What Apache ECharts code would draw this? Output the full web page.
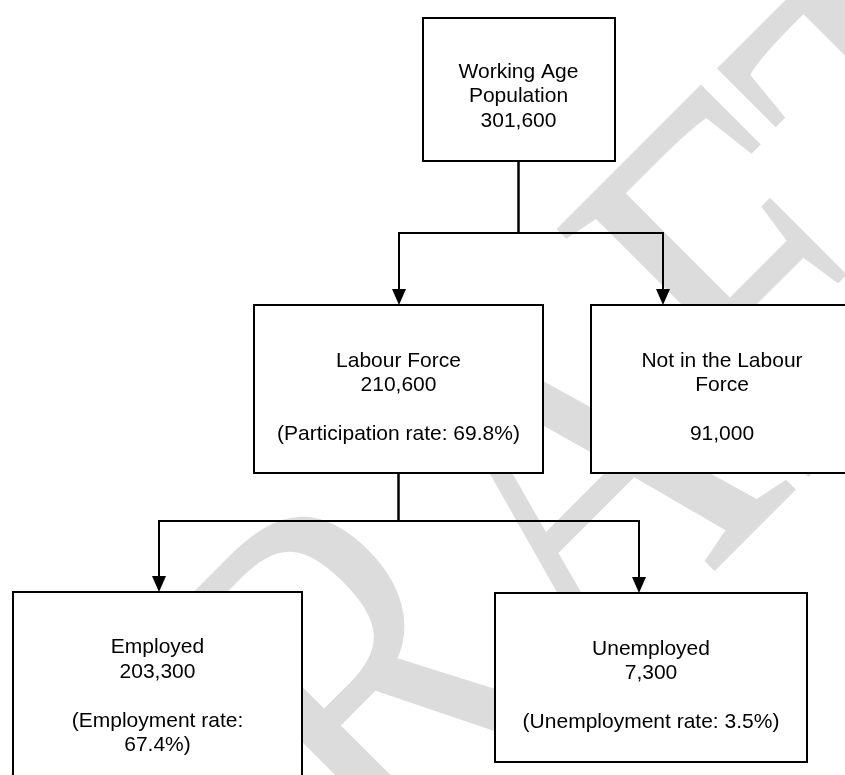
<!DOCTYPE html>
<html><head><meta charset="utf-8">
<script src="https://cdn.jsdelivr.net/npm/echarts@6/dist/echarts.min.js"></script>
<style>html,body{margin:0;padding:0;background:#fff}#chart{width:845px;height:775px}</style>
</head><body><div id="chart"></div>
<script>
// ---- data ----
const nodeTitles = ['Working Age\nPopulation', 'Labour Force', 'Not in the Labour\nForce', 'Employed', 'Unemployed'];
const nodeValues = [301600, 210600, 91000, 203300, 7300];
const rateNames = ['', 'Participation rate', '', 'Employment rate', 'Unemployment rate'];
const rateValues = [null, 69.8, null, 67.4, 3.5];
const links = [[0, 1], [0, 2], [1, 3], [1, 4]];
const watermarkText = 'DRAFT';

// ---- layout (kept apart from the data) ----
const boxes = [[423, 18, 615, 161], [254, 305, 543, 473], [591, 305, 853, 473], [13, 592, 302, 800], [495, 593, 807, 762]];
const textCenters = [[518.5, 96.5], [398.5, 397.5], [722, 397.5], [157.5, 696.5], [651, 685.5]];
const valueGap = [1, 1, 2, 1, 1];
const rateWrap = [false, false, false, true, false];
const stemX = [518.5, 398.5];
const busY = [233, 521];
const arrowX = [399, 663, 159, 639];

function nodeLabel(i) {
  let s = nodeTitles[i] + '\n'.repeat(valueGap[i]) + nodeValues[i].toLocaleString('en-US');
  if (rateValues[i] != null) {
    s += '\n\n(' + rateNames[i] + ':' + (rateWrap[i] ? '\n' : ' ') + rateValues[i].toFixed(1) + '%)';
  }
  return s;
}

const chart = echarts.init(document.getElementById('chart'), null, {renderer: 'canvas'});
chart.setOption({
  backgroundColor: '#ffffff',
  animation: false,
  grid: {left: 0, right: 0, top: 0, bottom: 0},
  xAxis: {type: 'value', min: 0, max: 845, show: false},
  yAxis: {type: 'value', min: 0, max: 775, inverse: true, show: false},
  graphic: [{
    type: 'text', x: 559, y: 526, rotation: Math.PI / 4, scaleX: 0.77, z: 0, silent: true,
    style: {text: watermarkText, font: '540px "Liberation Serif", "Times New Roman", serif',
      fill: '#dcdcdc', textAlign: 'center', textVerticalAlign: 'middle'}
  }],
  series: [{
    type: 'custom', z: 5, silent: true,
    data: links.map((l, k) => [k]),
    renderItem: function (params, api) {
      const k = api.value(0);
      const p = links[k][0], c = links[k][1];
      const pb = boxes[p], cb = boxes[c];
      const ax = arrowX[k];
      const pts = [[stemX[p], pb[3]], [stemX[p], busY[p]], [ax, busY[p]], [ax, cb[1] - 14]].map(q => api.coord(q));
      const tri = [[ax - 7, cb[1] - 16], [ax + 7, cb[1] - 16], [ax, cb[1]]].map(q => api.coord(q));
      return {type: 'group', children: [
        {type: 'polyline', shape: {points: pts}, style: {stroke: '#000', lineWidth: 2, fill: null}},
        {type: 'polygon', shape: {points: tri}, style: {fill: '#000'}}
      ]};
    }
  }, {
    type: 'custom', z: 6, silent: true,
    data: nodeValues.map((v, i) => [i, v]),
    renderItem: function (params, api) {
      const i = api.value(0);
      const b = boxes[i];
      const p0 = api.coord([b[0], b[1]]), p1 = api.coord([b[2], b[3]]);
      const tc = api.coord(textCenters[i]);
      return {type: 'group', children: [
        {type: 'rect', shape: {x: p0[0], y: p0[1], width: p1[0] - p0[0], height: p1[1] - p0[1]},
          style: {fill: '#ffffff', stroke: '#000', lineWidth: 2}},
        {type: 'text', x: tc[0], y: tc[1],
          style: {text: nodeLabel(i), fill: '#000', font: '21px "Liberation Sans", Arial, sans-serif',
            textAlign: 'center', textVerticalAlign: 'middle', lineHeight: 24.4}}
      ]};
    }
  }]
});
</script>
</body></html>
